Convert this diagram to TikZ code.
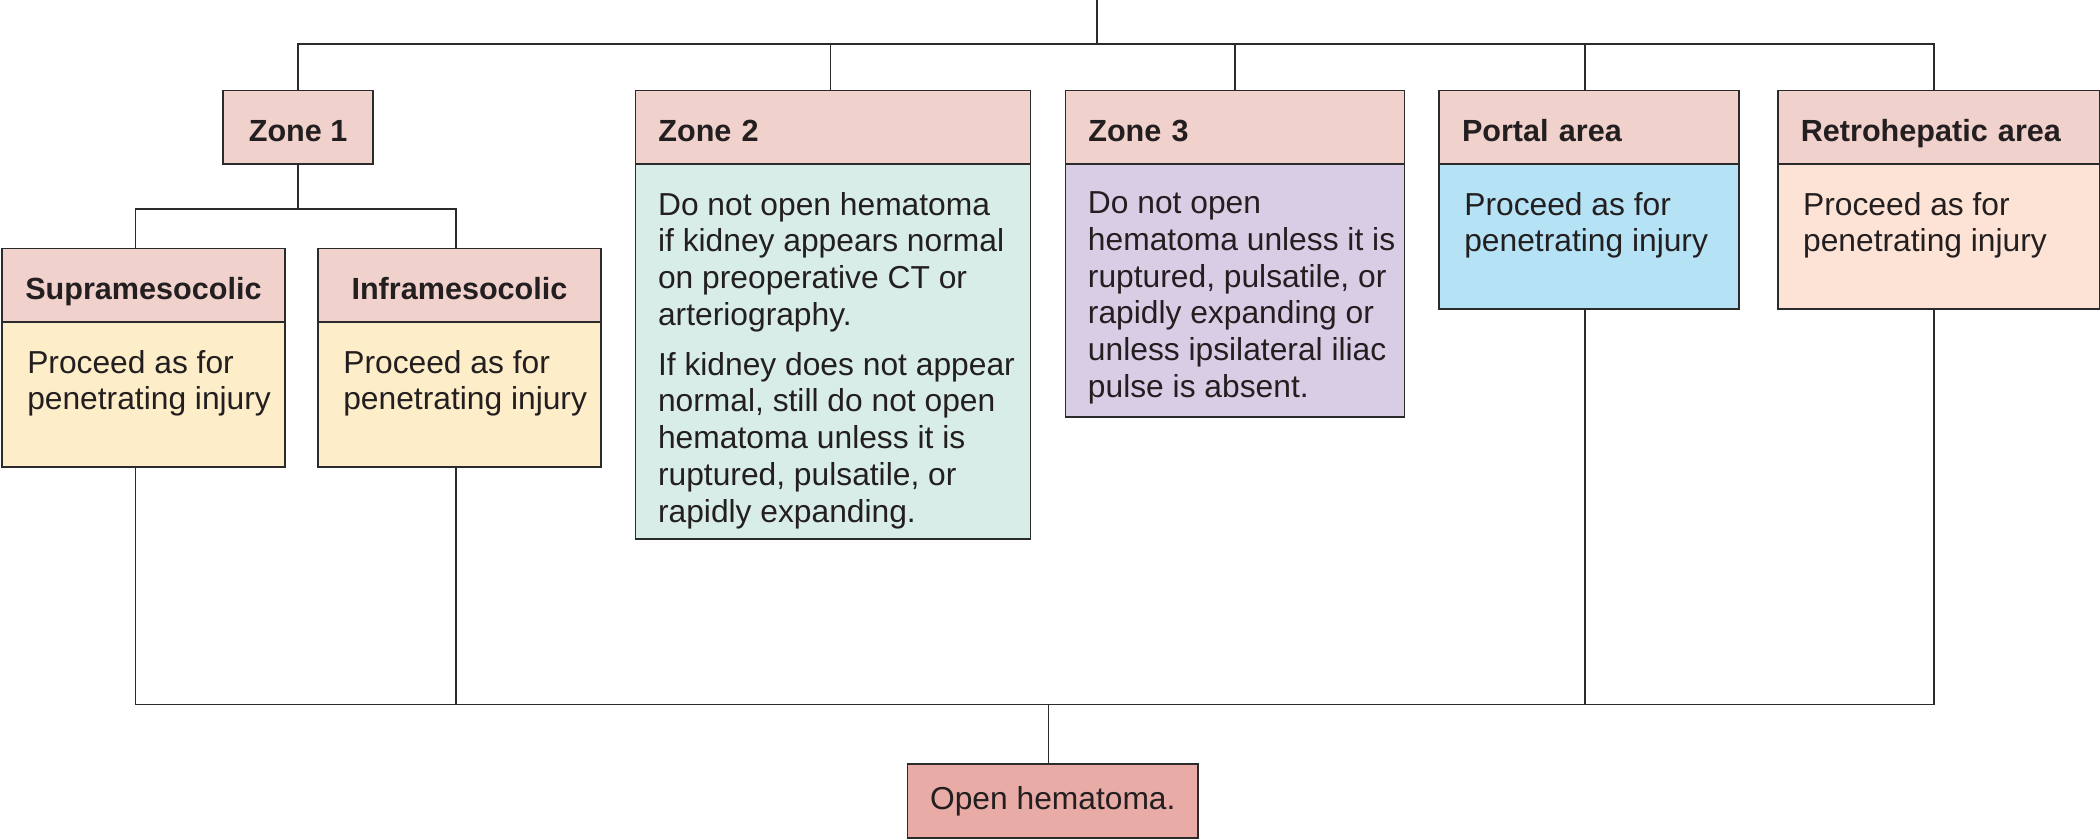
\documentclass[tikz,border=0pt]{standalone}
\usepackage{fontspec}
\setmainfont{Liberation Sans}
\definecolor{linec}{HTML}{2B2B2B}
\definecolor{txtc}{HTML}{231F20}
\definecolor{hdrc}{HTML}{F0D1CC}
\definecolor{yelc}{HTML}{FDEDC8}
\definecolor{mintc}{HTML}{D8EDE8}
\definecolor{lavc}{HTML}{D9CDE6}
\definecolor{bluec}{HTML}{B6E2F5}
\definecolor{peachc}{HTML}{FCE3D5}
\definecolor{openc}{HTML}{E8ABA6}
\newcommand{\bodyfont}{\fontsize{13.5}{15.6}\selectfont}
\newcommand{\headfont}{\fontsize{13}{15.6}\selectfont\bfseries}
\begin{document}
\begin{tikzpicture}[x=0.02cm,y=-0.02cm,
  every node/.style={text=txtc},
  conn/.style={draw=linec, line width=0.7pt},
  boxbase/.style={draw=linec, line width=0.7pt, anchor=north west, inner sep=0pt},
  hdr/.style={boxbase, fill=hdrc, minimum height=1.10cm, font=\headfont, text height=12pt, text depth=0pt},
  hdrc/.style={hdr, minimum width=#1, align=center},
  hdrl/.style={hdr, minimum width=#1, inner xsep=0.34cm, align=left},
  bodybox/.style={boxbase},
  btext/.style={anchor=north west, inner sep=0pt, align=left, font=\bodyfont}]
\useasboundingbox (0,0) rectangle (1568,627);

% Zone 1 and its children
\node[hdrc=2.24cm] (z1) at (166,67) {Zone 1};
\node[hdrc=4.22cm] (suph) at (1,185) {Supramesocolic};
\node[bodybox, fill=yelc, minimum width=4.22cm, minimum height=2.16cm] (supb) at (1,240) {};
\node[btext] (supt) at ([shift={(19,21)}]supb.north west) {Proceed as for\\penetrating injury};
\node[hdrc=4.22cm] (infh) at (237,185) {Inframesocolic};
\node[bodybox, fill=yelc, minimum width=4.22cm, minimum height=2.16cm] (infb) at (237,240) {};
\node[btext] (inft) at ([shift={(19,21)}]infb.north west) {Proceed as for\\penetrating injury};

% Zone 2
\node[hdrl=5.90cm, text width=5.22cm] (z2h) at (474,67) {Zone 2};
\node[bodybox, fill=mintc, minimum width=5.90cm, minimum height=5.60cm] (z2b) at (474,122) {};
\node[btext] (z2t) at ([shift={(17,21)}]z2b.north west)
  {Do not open hematoma\\if kidney appears normal\\on preoperative CT or\\arteriography.\\[0.2cm]
   If kidney does not appear\\normal, still do not open\\hematoma unless it is\\ruptured, pulsatile, or\\rapidly expanding.};

% Zone 3
\node[hdrl=5.06cm, text width=4.38cm] (z3h) at (795,67) {Zone 3};
\node[bodybox, fill=lavc, minimum width=5.06cm, minimum height=3.78cm] (z3b) at (795,122) {};
\node[btext] (z3t) at ([shift={(17,21)}]z3b.north west)
  {Do not open\\hematoma unless it is\\ruptured, pulsatile, or\\rapidly expanding or\\unless ipsilateral iliac\\pulse is absent.};

% Portal area
\node[hdrl=4.48cm, text width=3.80cm] (poh) at (1074,67) {Portal area};
\node[bodybox, fill=bluec, minimum width=4.48cm, minimum height=2.16cm] (pob) at (1074,122) {};
\node[btext] (pot) at ([shift={(19,21)}]pob.north west) {Proceed as for\\penetrating injury};

% Retrohepatic area
\node[hdrl=4.80cm, text width=4.12cm] (reh) at (1327,67) {Retrohepatic area};
\node[bodybox, fill=peachc, minimum width=4.80cm, minimum height=2.16cm] (reb) at (1327,122) {};
\node[btext] (ret) at ([shift={(19,21)}]reb.north west) {Proceed as for\\penetrating injury};

% Open hematoma
\node[boxbase, fill=openc, minimum width=4.34cm, minimum height=1.10cm, font=\bodyfont] (open) at (677,570) {Open hematoma.};

% junctions
\coordinate (top) at (819,0);
\coordinate (jt) at (819,33);
\coordinate (j1) at ([yshift=-33*0.02cm]z1.south);
\coordinate (jb) at (783,526);
\coordinate (supx) at ([xshift=-0.12cm]supb.south);
\coordinate (infx) at ([xshift=-0.05cm]infb.south);
\coordinate (z2x) at ([xshift=-0.04cm]z2h.north);
\coordinate (pox) at ([xshift=-0.06cm]pob.south);
\coordinate (rex) at ([xshift=-0.07cm]reb.south);

% top tree
\draw[conn] (top) -- (jt);
\draw[conn] (z1.north) -- (z1.north |- jt) -- (rex |- jt) -- (rex |- reh.north);
\draw[conn] (z2x) -- (z2x |- jt);
\draw[conn] (z3h.north) -- (z3h.north |- jt);
\draw[conn] (pox |- poh.north) -- (pox |- jt);

% zone 1 branch
\draw[conn] (z1.south) -- (j1);
\draw[conn] (supx |- suph.north) |- (j1) -| (infx |- infh.north);

% bottom tree
\draw[conn] (supx) -- (supx |- jb) -- (rex |- jb) -- (rex);
\draw[conn] (infx) -- (infx |- jb);
\draw[conn] (pox) -- (pox |- jb);
\draw[conn] (jb |- open.north) -- (jb);
\end{tikzpicture}
\end{document}
